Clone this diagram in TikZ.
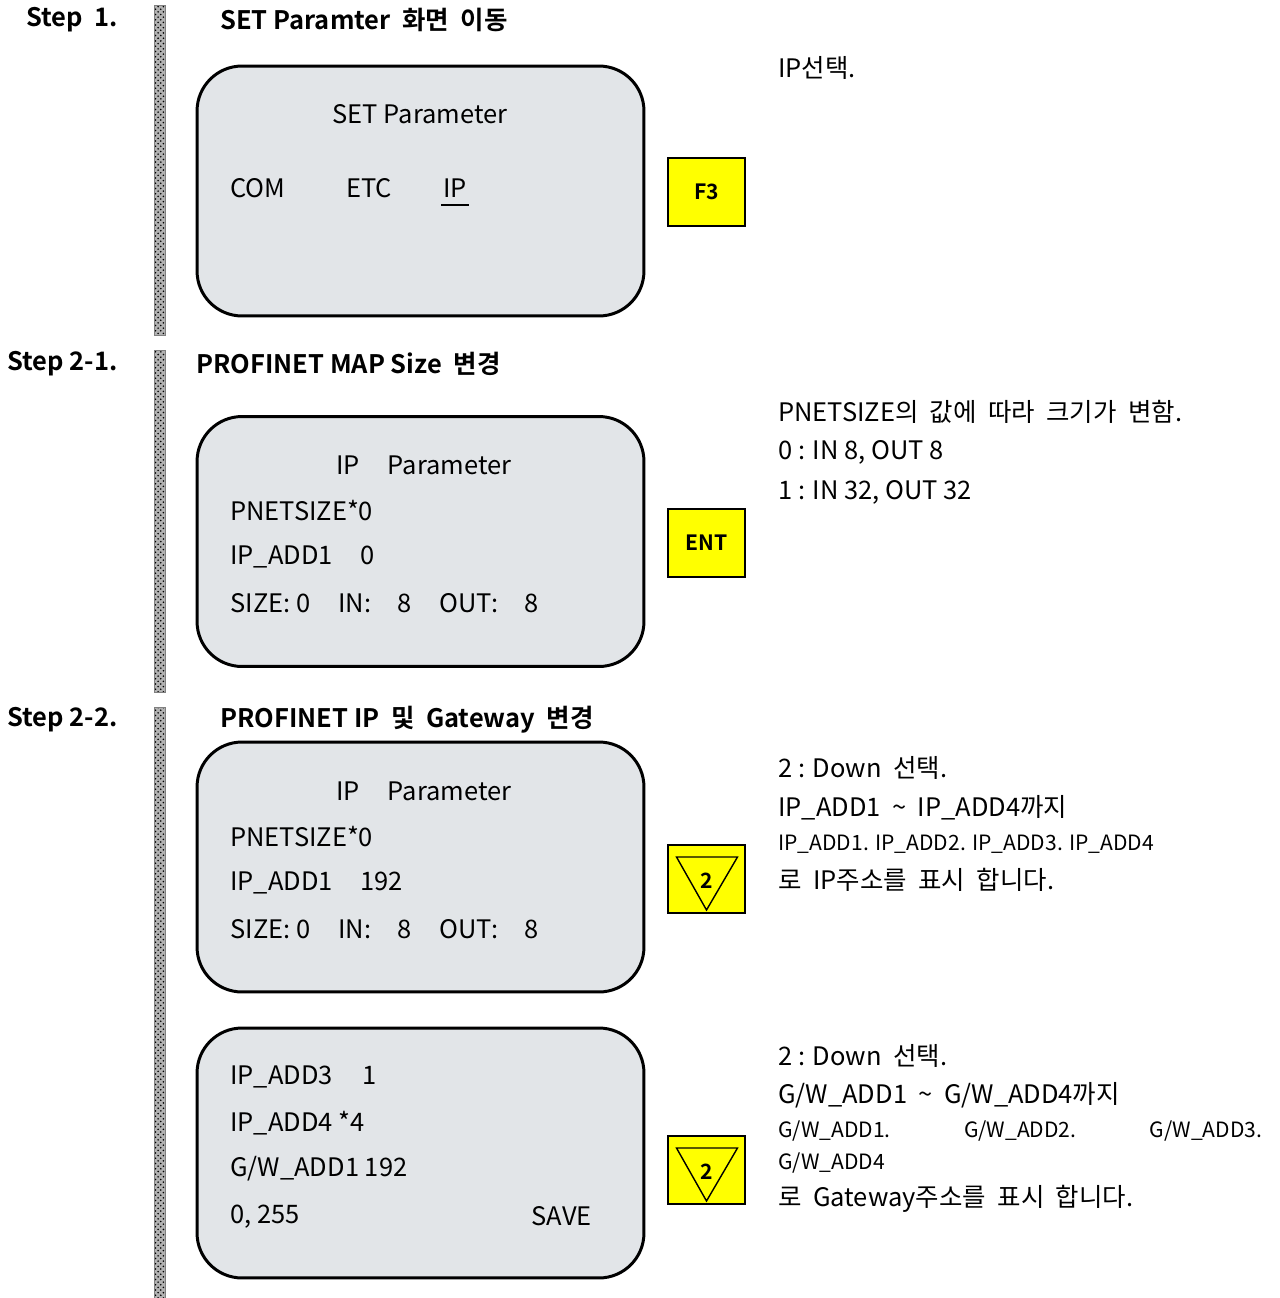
\documentclass[tikz,border=0pt]{standalone}
\usepackage{fontspec}
\setmainfont{Noto Sans CJK KR}[BoldFont={Noto Sans CJK KR Bold}]
\usetikzlibrary{positioning}
\usetikzlibrary{calc,patterns}
\definecolor{lcdgray}{RGB}{226,229,232}
\definecolor{keyyellow}{RGB}{255,255,0}

\tikzset{
  lcd/.style={draw, line width=1.7pt, fill=lcdgray, rounded corners=0.9cm,
    minimum width=8.94cm, minimum height=5cm},
  key/.style={draw, line width=0.8pt, fill=keyyellow, minimum width=1.54cm,
    minimum height=1.36cm, font=\fontsize{12}{14}\selectfont\bfseries},
  row/.style={anchor=west, inner sep=0pt},
  title/.style={font=\fontsize{14.5}{17}\selectfont\bfseries},
  small/.style={font=\fontsize{12}{14}\selectfont},
  bar/.style={preaction={fill=gray!60}, pattern=crosshatch dots,
    pattern color=black, draw=gray, line width=0.3pt}
}

\begin{document}
\begin{tikzpicture}[x=0.02cm, y=-0.02cm, font=\fontsize{14.5}{17}\selectfont]
    \useasboundingbox (0,0) rectangle (1279,1298);

    % bars
    \path[bar] (154,5) rectangle (165,335);
    \path[bar] (154,350) rectangle (165,692);
    \path[bar] (154,707) rectangle (165,1298);

    % step labels and headings
    \node(s1) [anchor=east, inner sep=0pt, title] at (118,20) {Step\ \ 1.};
    \node(s21) [anchor=east, inner sep=0pt, title] at (118,364) {Step\ 2-1.};
    \node(s22) [anchor=east, inner sep=0pt, title] at (118,720) {Step\ 2-2.};
    \node(h1) [row, title] at (220,20) {SET Paramter \ 화면 \ 이동};
    \node(h21) [row, title] at (196,364) {PROFINET MAP Size \ 변경};
    \node(h22) [row, title] at (220,720) {PROFINET IP \ 및 \ Gateway \ 변경};

    % screens
    \node(lcd1) [lcd] at (420.5,191) {};
    \node(lcd2) [lcd] at (420.5,541.5) {};
    \node(lcd3) [lcd] at (420.5,867) {};
    \node(lcd4) [lcd] at (420.5,1153) {};

    % screen 1
    \node(t1) at (420,114) {SET Parameter};
    \node(com) [row] at (230,188) {COM};
    \node(etc) [row] at (346,188) {ETC};
    \node(ip) [row] at (443,188) {IP};
    \draw[line width=1.2pt] ([xshift=-1pt, yshift=-4pt]ip.south west) -- ([xshift=1pt, yshift=-4pt]ip.south east);

    % screen 2
    \node(t2) [row] at (336,465) {IP\hspace{1.1em}Parameter};
    \node(a2) [row] at (230,511) {PNETSIZE*0};
    \node(b2) [below=0.92cm of a2.west, row] {\makebox[2.6cm][l]{IP\_ADD1}0};
    \node(c2) [below=0.92cm of b2.west, row] {\makebox[2.16cm][l]{SIZE:\ 0}\makebox[1.18cm][l]{IN:}\makebox[0.84cm][l]{8}\makebox[1.7cm][l]{OUT:}8};

    % screen 3
    \node(t3) [row] at (336,791) {IP\hspace{1.1em}Parameter};
    \node(a3) [row] at (230,837) {PNETSIZE*0};
    \node(b3) [below=0.92cm of a3.west, row] {\makebox[2.6cm][l]{IP\_ADD1}192};
    \node(c3) [below=0.92cm of b3.west, row] {\makebox[2.16cm][l]{SIZE:\ 0}\makebox[1.18cm][l]{IN:}\makebox[0.84cm][l]{8}\makebox[1.7cm][l]{OUT:}8};

    % screen 4
    \node(a4) [row] at (230,1077) {\makebox[2.64cm][l]{IP\_ADD3}1};
    \node(b4) [below=0.92cm of a4.west, row] {IP\_ADD4 *4};
    \node(c4) [below=0.92cm of b4.west, row] {G/W\_ADD1\ 192};
    \node(d4) [row] at (230,1217) {0, 255};
    \node(save) [anchor=east, inner sep=0pt] at (592,1216) {SAVE};

    % keys
    \node(f3) [key] at (706.5,192) {F3};
    \node(ent) [key] at (706.5,543) {ENT};
    \node(dn1) [key] at (706.5,879) {};
    \node(dn2) [key] at (706.5,1170) {};
    \foreach \k in {dn1,dn2} {
      \draw[line width=0.8pt] ($(\k.center)+(-30,-22)$) -- ($(\k.center)+(31,-22)$) -- ($(\k.center)+(0,31)$) -- cycle;
      \node [font=\fontsize{12}{14}\selectfont\bfseries] at ($(\k.center)+(0,2)$) {2};
    }

    % notes
    \node(n1) [row] at (778,68) {IP선택.};

    \node(n21) [row] at (778,412) {PNETSIZE의 \ 값에 \ 따라 \ 크기가 \ 변함.};
    \node(n22) [below=0.8cm of n21.west, row] {0 : IN 8, OUT 8};
    \node(n23) [below=0.8cm of n22.west, row] {1 : IN 32, OUT 32};

    \node(n31) [row] at (778,768) {2 : Down \ 선택.};
    \node(n32) [below=0.8cm of n31.west, row] {IP\_ADD1 \ \textasciitilde\ \ IP\_ADD4까지};
    \node(n33) [below=0.72cm of n32.west, row, small] {IP\_ADD1. IP\_ADD2. IP\_ADD3. IP\_ADD4};
    \node(n34) [below=0.72cm of n33.west, row] {로 \ IP주소를 \ 표시 \ 합니다.};

    \node(n41) [row] at (778,1056) {2 : Down \ 선택.};
    \node(n42) [below=0.78cm of n41.west, row] {G/W\_ADD1 \ \textasciitilde\ \ G/W\_ADD4까지};
    \node(n43) [below=0.72cm of n42.west, row, small] {\makebox[9.68cm][s]{G/W\_ADD1.\hfill G/W\_ADD2.\hfill G/W\_ADD3.}};
    \node(n44) [below=0.64cm of n43.west, row, small] {G/W\_ADD4};
    \node(n45) [below=0.72cm of n44.west, row] {로 \ Gateway주소를 \ 표시 \ 합니다.};
\end{tikzpicture}
\end{document}
